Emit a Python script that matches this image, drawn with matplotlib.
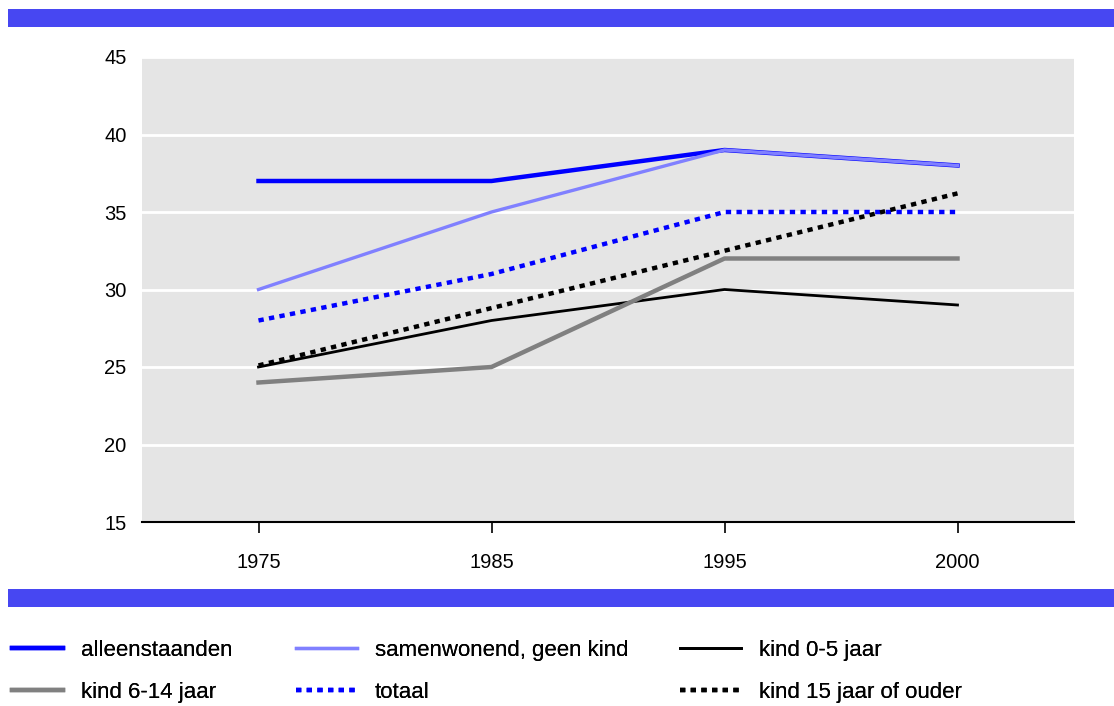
import matplotlib.pyplot as plt
from matplotlib.patches import Rectangle

years = ['1975', '1985', '1995', '2000']
alleenstaanden = [37, 37, 39, 38]
samenwonend = [30, 35, 39, 38]
kind_0_5 = [25, 28, 30, 29]
kind_6_14 = [24, 25, 32, 32]
totaal = [28, 31, 35, 35]
kind_15 = [25.1, 28.8, 32.5, 36.2]

plt.rcParams['font.family'] = ['Liberation Sans', 'DejaVu Sans']

fig = plt.figure(figsize=(11.14, 7.06), dpi=100)
ax = fig.add_axes([142/1114, 1-522/706, (1074-142)/1114, (522-57)/706])
ax.set_facecolor('#e5e5e5')

x = range(len(years))
l1, = ax.plot(x, alleenstaanden, color='#0000ff', lw=3.2, label='alleenstaanden')
l2, = ax.plot(x, samenwonend, color='#8080ff', lw=2.4, label='samenwonend, geen kind')
l3, = ax.plot(x, kind_0_5, color='black', lw=2.0, label='kind 0-5 jaar')
l4, = ax.plot(x, kind_6_14, color='#808080', lw=3.2, label='kind 6-14 jaar')
l5, = ax.plot(x, totaal, color='#0000ff', lw=3.2, ls=(0, (1.2, 1.2)), label='totaal')
l6, = ax.plot(x, kind_15, color='black', lw=3.2, ls=(0, (1.2, 1.2)), label='kind 15 jaar of ouder')

ax.set_xlim(-0.5, 3.5)
ax.set_ylim(15, 45)
ax.set_yticks(range(15, 50, 5))
ax.set_xticks(list(x))
ax.set_xticklabels(years)
ax.grid(axis='y', color='white', lw=2)
ax.set_axisbelow(True)
for s in ['top', 'right', 'left']:
    ax.spines[s].set_visible(False)
ax.spines['bottom'].set_linewidth(1.5)
ax.tick_params(axis='y', length=0, pad=11, labelsize=14.5)
ax.tick_params(axis='x', length=8, width=1.2, pad=14, labelsize=14.5)

# blue bands
fig.add_artist(Rectangle((8/1114, 1-27/706), 1, 18/706, transform=fig.transFigure,
                         color='#4747f2', lw=0))
fig.add_artist(Rectangle((8/1114, 1-607/706), 1, 18/706, transform=fig.transFigure,
                         color='#4747f2', lw=0))

# legend: three columns placed separately
cols = [([l1, l4], 12, 2.3), ([l2, l5], 296, 2.75), ([l3, l6], 680, 2.75)]
for handles, xpx, hl in cols:
    leg = fig.legend(handles=handles, loc='upper left',
                     bbox_to_anchor=(xpx/1114, 1-640/706), frameon=False,
                     prop={'size': 16}, handlelength=hl, handletextpad=0.8,
                     labelspacing=0.95, borderpad=0, borderaxespad=0)
    fig.add_artist(leg)

fig.savefig('out.png', dpi=100)
